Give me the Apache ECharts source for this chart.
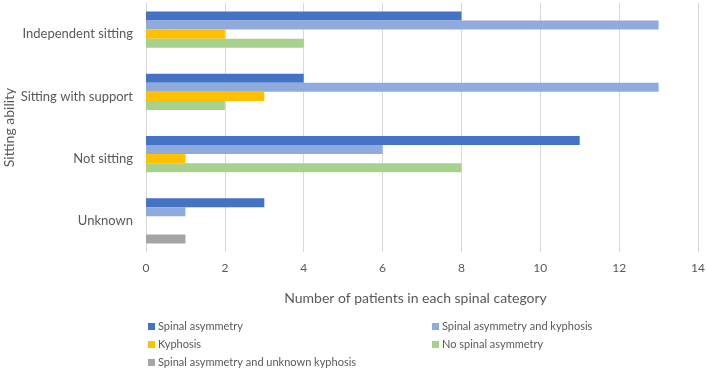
<!DOCTYPE html>
<html>
<head>
<meta charset="utf-8">
<script src="https://cdn.jsdelivr.net/npm/echarts@6/dist/echarts.min.js"></script>
<style>
  html, body { margin: 0; padding: 0; background: #fff; }
  #chart { width: 706px; height: 369px; }
</style>
</head>
<body>
<div id="chart"></div>
<script>
// sitting ability groups, top to bottom
const categories = ['Independent sitting', 'Sitting with support', 'Not sitting', 'Unknown'];

const spinalAsymmetry = [8, 4, 11, 3];
const asymmetryAndKyphosis = [13, 13, 6, 1];
const kyphosis = [2, 3, 1, null];
const noAsymmetry = [4, 2, 8, null];
const asymmetryUnknownKyphosis = [null, null, null, 1];

const xTicks = [0, 2, 4, 6, 8, 10, 12, 14];

const textColor = '#595959';
const font = 'Lato, "Open Sans", sans-serif';

function bar(name, data, color) {
  return {
    name: name,
    type: 'bar',
    data: data,
    barGap: '0%',
    barCategoryGap: '27%',
    itemStyle: { color: color },
  };
}

const legendText = { color: textColor, fontSize: 11, fontFamily: font, padding: [0, 0, 0, -2] };

const chart = echarts.init(document.getElementById('chart'));
chart.setOption({
  animation: false,
  textStyle: { fontFamily: font },
  grid: {
    left: 146,
    right: 8,
    top: 3,
    bottom: 117,
    outerBoundsMode: 'none',
  },
  legend: [
    {
      orient: 'vertical',
      left: 143,
      top: 316,
      height: 60,
      itemWidth: 7,
      itemHeight: 7,
      itemGap: 7,
      icon: 'rect',
      textStyle: legendText,
      data: ['Spinal asymmetry', 'Kyphosis', 'Spinal asymmetry and unknown kyphosis'],
    },
    {
      orient: 'vertical',
      left: 427,
      top: 316,
      height: 60,
      itemWidth: 7,
      itemHeight: 7,
      itemGap: 7,
      icon: 'rect',
      textStyle: legendText,
      data: ['Spinal asymmetry and kyphosis', 'No spinal asymmetry'],
    },
  ],
  xAxis: {
    type: 'value',
    min: xTicks[0],
    max: xTicks[xTicks.length - 1],
    interval: 2,
    name: 'Number of patients in each spinal category',
    nameLocation: 'middle',
    nameGap: 39,
    nameTextStyle: { color: textColor, fontSize: 14, fontFamily: font, padding: [0, 13, 0, 0] },
    axisLine: { show: false },
    axisTick: { show: false },
    axisLabel: { color: textColor, fontSize: 12, margin: 10, fontFamily: font },
    splitLine: { lineStyle: { color: '#d9d9d9', width: 1 } },
  },
  yAxis: {
    type: 'category',
    inverse: true,
    data: categories,
    name: 'Sitting ability',
    nameLocation: 'middle',
    nameGap: 130,
    nameMoveOverlap: false,
    nameTextStyle: { color: textColor, fontSize: 14, fontFamily: font },
    axisLine: { show: true, lineStyle: { color: '#d9d9d9' } },
    axisTick: { show: false },
    axisLabel: { color: textColor, fontSize: 13, margin: 13, fontFamily: font },
  },
  series: [
    bar('Spinal asymmetry', spinalAsymmetry, '#4472c4'),
    bar('Spinal asymmetry and kyphosis', asymmetryAndKyphosis, '#8faadc'),
    bar('Kyphosis', kyphosis, '#ffc000'),
    bar('No spinal asymmetry', noAsymmetry, '#a9d18e'),
    bar('Spinal asymmetry and unknown kyphosis', asymmetryUnknownKyphosis, '#a5a5a5'),
  ],
});
</script>
</body>
</html>
